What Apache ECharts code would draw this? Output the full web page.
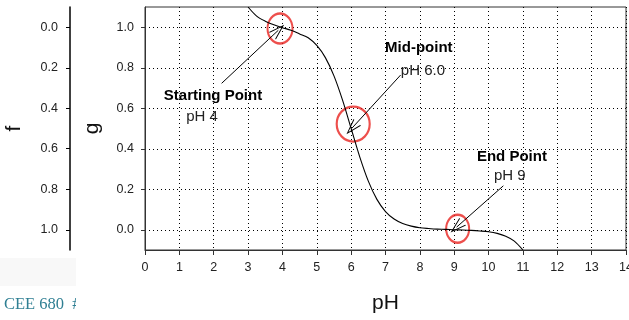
<!DOCTYPE html>
<html>
<head>
<meta charset="utf-8">
<script src="https://cdn.jsdelivr.net/npm/echarts@6/dist/echarts.min.js"></script>
<style>
html,body{margin:0;padding:0;background:#fff;}
#chart{width:629px;height:320px;}
</style>
</head>
<body>
<div id="chart"></div>
<script>
// ---- data ----
const pHValues = [3.0, 3.25, 3.5, 3.75, 4.0, 4.25, 4.5, 4.75, 5.0, 5.25, 5.5, 5.75, 6.0, 6.25, 6.5, 6.75, 7.0, 7.25, 7.5, 7.75, 8.0, 8.25, 8.5, 8.75, 9.0, 9.25, 9.5, 9.75, 10.0, 10.25, 10.5, 10.75, 11.0];
const gValues  = [1.10, 1.055, 1.03, 1.012, 0.998, 0.985, 0.967, 0.948, 0.91, 0.85, 0.76, 0.64, 0.50, 0.36, 0.24, 0.15, 0.09, 0.053, 0.031, 0.018, 0.010, 0.006, 0.003, 0.002, 0.000, -0.001, -0.003, -0.006, -0.010, -0.018, -0.032, -0.056, -0.10];

const xTickValues = [0,1,2,3,4,5,6,7,8,9,10,11,12,13,14];
const gTickValues = [0, 0.2, 0.4, 0.6, 0.8, 1.0];
const fTickValues = [0, 0.2, 0.4, 0.6, 0.8, 1.0];

const noteTexts = ['Starting Point', 'pH 4', 'Mid-point', 'pH 6.0', 'End Point', 'pH 9'];
const noteX     = [1.98, 1.66, 7.97, 8.09, 10.68, 10.62];
const noteY     = [0.66, 0.557, 0.897, 0.783, 0.36, 0.266];
const noteBold  = [true, false, true, false, true, false];

const arrowFrom = [[2.23, 0.723], [7.44, 0.764], [10.43, 0.217]];
const arrowTo   = [[3.88, 0.985], [6.02, 0.501], [9.07, 0.013]];

const circleCenters = [[3.93, 0.994], [6.06, 0.522], [9.10, 0.005]];
const circleSizes   = [[25, 30], [33, 35], [23, 28]];

// ---- chart ----
const chart = echarts.init(document.getElementById('chart'), null, {renderer: 'canvas'});
const FONT = 'Liberation Sans, Arial, sans-serif';
const fmt1 = v => Number(v).toFixed(1);

const option = {
  animation: false,
  backgroundColor: '#fff',
  textStyle: {fontFamily: FONT},
  grid: [
    {left: 145, right: 3, top: 7, bottom: 70, show: true, borderColor: '#333', borderWidth: 1,
     backgroundColor: 'transparent', containLabel: false, outerBoundsMode: 'none'},
    {left: 70, width: 1, top: 7, bottom: 70, show: false, containLabel: false, outerBoundsMode: 'none'}
  ],
  xAxis: [
    {
      gridIndex: 0, type: 'value', min: 0, max: 14, interval: 1,
      name: 'pH', nameLocation: 'middle', nameGap: 43,
      nameTextStyle: {fontSize: 21, color: '#111', fontFamily: FONT},
      axisLine: {show: true, onZero: false, lineStyle: {color: '#333', width: 1}},
      axisTick: {show: true, length: 5, lineStyle: {color: '#333'}},
      axisLabel: {show: true, fontSize: 12.5, color: '#222', margin: 11, fontFamily: FONT,
        customValues: xTickValues},
      splitLine: {show: true, lineStyle: {color: '#000', width: 1, type: [1, 3]}}
    },
    {gridIndex: 1, type: 'value', show: false, min: 0, max: 1}
  ],
  yAxis: [
    {
      gridIndex: 0, type: 'value', min: -0.1, max: 1.1,
      name: 'g', nameLocation: 'middle', nameRotate: 90, nameGap: 42,
      nameTextStyle: {fontSize: 21, color: '#111', fontFamily: FONT},
      axisLine: {show: true, onZero: false, lineStyle: {color: '#333', width: 1}},
      axisTick: {show: true, length: 4, lineStyle: {color: '#333'}, customValues: gTickValues},
      axisLabel: {show: true, fontSize: 12.5, color: '#222', margin: 11, formatter: fmt1,
        fontFamily: FONT, customValues: gTickValues},
      splitLine: {show: true, lineStyle: {color: '#000', width: 1, type: [1, 3]}}
    },
    {
      gridIndex: 1, type: 'value', min: -0.1, max: 1.1, inverse: true, position: 'left',
      name: 'f', nameLocation: 'middle', nameRotate: 90, nameGap: 45,
      nameTextStyle: {fontSize: 21, color: '#111', fontFamily: FONT},
      axisLine: {show: true, onZero: false, lineStyle: {color: '#000', width: 1.5}},
      axisTick: {show: true, length: 4, lineStyle: {color: '#000'}, customValues: fTickValues},
      axisLabel: {show: true, fontSize: 12.5, color: '#222', margin: 12, formatter: fmt1,
        fontFamily: FONT, customValues: fTickValues},
      splitLine: {show: false}
    }
  ],
  series: [
    {
      type: 'line', xAxisIndex: 0, yAxisIndex: 0,
      data: pHValues.map((x, i) => [x, gValues[i]]),
      showSymbol: false, smooth: 0.3, clip: true,
      lineStyle: {color: '#000', width: 1.1},
      silent: true,
      markLine: {
        silent: true,
        symbol: ['none', 'path://M5,0 L10,16 L9,16 L5,3 L1,16 L0,16 Z'],
        symbolSize: [10, 16],
        lineStyle: {color: '#000', width: 1, type: 'solid'},
        label: {show: false},
        data: arrowFrom.map((p, i) => [{coord: p}, {coord: arrowTo[i]}])
      },
      markPoint: {
        silent: true,
        symbol: 'rect', symbolSize: 1,
        itemStyle: {color: 'transparent'},
        data: noteTexts.map((t, i) => ({
          coord: [noteX[i], noteY[i]], value: t,
          label: {
            show: true, position: 'inside', formatter: t,
            fontSize: 15, fontWeight: noteBold[i] ? 'bold' : 'normal',
            color: noteBold[i] ? '#000' : '#222', fontFamily: FONT
          }
        }))
      }
    },
    {
      type: 'scatter', xAxisIndex: 0, yAxisIndex: 0, silent: true,
      data: circleCenters.map((c, i) => ({value: c, symbolSize: circleSizes[i]})),
      symbol: 'circle',
      itemStyle: {color: 'transparent', borderColor: '#e8231f', borderWidth: 2.2}
    }
  ],
  graphic: [
    {type: 'rect', left: 0, top: 258, shape: {width: 76, height: 28}, style: {fill: '#f8f8f8'}, z: -1},
    {type: 'text', left: 4, top: 296, style: {text: 'CEE 680  #', font: '16.5px "Liberation Serif", "Times New Roman", serif', fill: '#2f7f93'}},
    {type: 'rect', left: 76, top: 288, shape: {width: 40, height: 30}, style: {fill: '#fff'}, z: 10}
  ]
};
chart.setOption(option);
</script>
</body>
</html>
